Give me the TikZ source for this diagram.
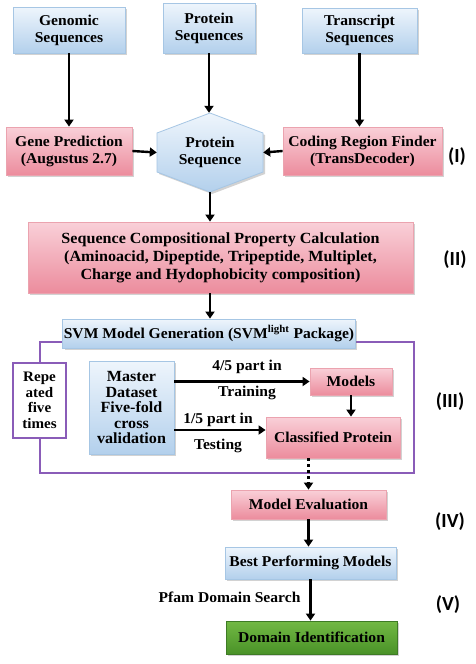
\documentclass[tikz,border=0pt]{standalone}
\usepackage{fontspec}
\setmainfont{Liberation Serif}[FakeStretch=1.04]
\newfontfamily\labfont{Carlito}
\usetikzlibrary{arrows.meta,shadows,calc}
\definecolor{bluetop}{HTML}{EEF5FC}
\definecolor{bluebot}{HTML}{B3D0EC}
\definecolor{blueline}{HTML}{A6C6E4}
\definecolor{pinktop}{HTML}{F9D0D8}
\definecolor{pinkbot}{HTML}{EC8C9D}
\definecolor{pinkline}{HTML}{EBA3AF}
\definecolor{greentop}{HTML}{72B944}
\definecolor{greenbot}{HTML}{4A9228}
\definecolor{greenline}{HTML}{3E7B25}
\definecolor{purp}{HTML}{8A5CB8}
\tikzset{
  x=1pt, y=-1pt,
  txt/.style={font=\bfseries\fontsize{15}{17}\selectfont, align=center},
  bluebox/.style={txt, draw=blueline, line width=0.8pt, top color=bluetop, bottom color=bluebot, inner sep=1pt,
    drop shadow={shadow xshift=2pt, shadow yshift=-2pt, opacity=0.35}},
  pinkbox/.style={txt, draw=pinkline, line width=0.8pt, top color=pinktop, bottom color=pinkbot, inner sep=1pt,
    drop shadow={shadow xshift=2pt, shadow yshift=-2pt, opacity=0.35}},
  greenbox/.style={txt, draw=greenline, line width=0.8pt, top color=greentop, bottom color=greenbot, inner sep=1pt,
    drop shadow={shadow xshift=2pt, shadow yshift=-2pt, opacity=0.35}},
  arr/.style={line width=2.4pt, -{Triangle[width=9pt,length=7pt]}},
  dotarr/.style={line width=2.4pt, dash pattern=on 3pt off 3pt, -{Triangle[width=9pt,length=7pt]}},
  lbl/.style={txt},
  roman/.style={font=\labfont\bfseries\fontsize{20}{22}\selectfont},
}
\begin{document}
\begin{tikzpicture}
\useasboundingbox[fill=white] (0,0) rectangle (476,664);
% frame
\draw[purp, line width=2pt] (40,342) rectangle (414,473);
% top row
\node[bluebox, minimum width=112pt, minimum height=46pt] (gen) at (69,30) {Genomic\\Sequences};
\node[bluebox, minimum width=92pt, minimum height=50pt] (prot) at (209,28) {Protein\\Sequences};
\node[bluebox, minimum width=115pt, minimum height=45pt] (trans) at (359.5,30.5) {Transcript\\Sequences};
% second row
\node[pinkbox, minimum width=126pt, minimum height=48pt] (genepred) at (69,151) {Gene Prediction\\(Augustus 2.7)};
\shade[top color=bluetop, bottom color=bluebot, draw=blueline, line width=0.8pt,
  drop shadow={shadow xshift=2pt, shadow yshift=-2pt, opacity=0.35}]
  (210,113) -- (263,133) -- (263,172) -- (210,192) -- (157,172) -- (157,133) -- cycle;
\node[txt, minimum width=106pt, minimum height=79pt, inner sep=0pt] (hex) at (210,152.5) {Protein\\Sequence};
\node[pinkbox, minimum width=159pt, minimum height=48pt] (coding) at (362.5,151) {Coding Region Finder\\(TransDecoder)};
% composition
\node[pinkbox, minimum width=385pt, minimum height=71pt, font=\bfseries\fontsize{15.5}{18}\selectfont] (seqcomp) at (220.5,257.5)
  {Sequence Compositional Property Calculation\\(Aminoacid, Dipeptide, Tripeptide, Multiplet,\\Charge and Hydophobicity composition)};
% svm
\node[bluebox, minimum width=288pt, minimum height=29pt] (svm) at (209,333.5)
  {SVM Model Generation (SVM\textsuperscript{light} Package)};
\node[txt, draw=purp, line width=1.6pt, fill=white, minimum width=53pt, minimum height=75pt, inner sep=0pt,
  font=\bfseries\fontsize{14.5}{15.5}\selectfont] (rep) at (39.5,400.5)
  {Repe\\ated\\five\\times};
\node[bluebox, minimum width=85pt, minimum height=93pt, font=\bfseries\fontsize{15.5}{15.5}\selectfont] (master) at (131.5,407.5)
  {Master\\Dataset\\Five-fold\\cross\\validation};
\node[pinkbox, minimum width=82pt, minimum height=27pt] (models) at (351,381.5) {Models};
\node[pinkbox, minimum width=134pt, minimum height=41pt] (classified) at (333,437.5) {Classified Protein};
\node[pinkbox, minimum width=155pt, minimum height=29pt] (modeleval) at (308.5,504.5) {Model Evaluation};
\node[bluebox, minimum width=171pt, minimum height=32pt] (best) at (310.5,563) {Best Performing Models};
\node[greenbox, minimum width=171pt, minimum height=33pt] (domain) at (311.5,637.5) {Domain Identification};
% connectors
\draw[arr] (gen.south) -- (gen.south |- genepred.north);
\draw[arr] (prot.south) -- (prot.south |- hex.north);
\draw[arr] (trans.south) -- (trans.south |- coding.north);
\draw[arr] (genepred.east) -- (hex.west);
\draw[arr] (coding.west) -- (hex.east);
\draw[arr] (hex.south) -- (hex.south |- seqcomp.north);
\draw[arr] (hex.south |- seqcomp.south) -- (hex.south |- svm.north);
\draw[arr] (master.east |- models.west) -- (models.west);
\coordinate (c15) at ([yshift=7.5pt]classified.west);
\draw[arr] (master.east |- c15) -- (c15);
\draw[arr] (models.south) -- (models.south |- classified.north);
\draw[dotarr] (modeleval.north |- classified.south) -- (modeleval.north);
\draw[arr] (modeleval.south) -- (modeleval.south |- best.north);
\draw[arr] (best.south) -- (best.south |- domain.north);
% labels
\node[lbl] (l1) at (247,367) {4/5 part in};
\node[lbl] (l2) at (247,393) {Training};
\node[lbl] (l3) at (218,420) {1/5 part in};
\node[lbl] (l4) at (218,446) {Testing};
\node[lbl, anchor=east] (l5) at (304,597) {Pfam Domain Search};
\node[roman] (r1) at (457,157) {(I)};
\node[roman] (r2) at (455,260) {(II)};
\node[roman] (r3) at (450,402) {(III)};
\node[roman] (r4) at (450,522) {(IV)};
\node[roman] (r5) at (448,605) {(V)};
\end{tikzpicture}
\end{document}
